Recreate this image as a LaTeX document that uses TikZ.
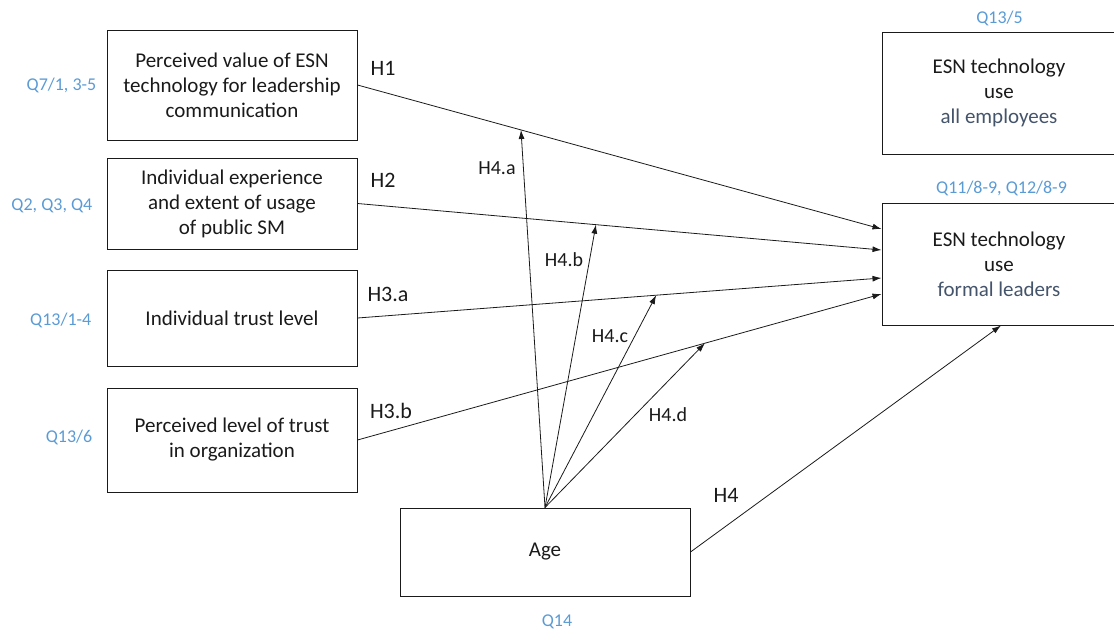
\documentclass[tikz,border=0pt]{standalone}
\usepackage{fontspec}
\setmainfont{Carlito}
\usetikzlibrary{arrows.meta}
\definecolor{qblue}{HTML}{5B9BD5}
\definecolor{slate}{HTML}{44546A}
\definecolor{ink}{HTML}{1A1A1A}
\begin{document}
\begin{tikzpicture}[x=1pt,y=-1pt,
  box/.style={draw=ink,line width=1pt,align=center,text=ink,inner sep=0pt,
    font=\fontsize{21}{25}\selectfont},
  qlabel/.style={text=qblue,inner sep=0pt,font=\fontsize{18}{22}\selectfont},
  hlabel/.style={text=ink,inner sep=0pt,font=\fontsize{22}{26}\selectfont},
  mlabel/.style={text=ink,inner sep=0pt,font=\fontsize{20}{24}\selectfont},
  link/.style={draw=ink,line width=0.8pt,-{Latex[length=9pt,width=6pt]}},
  plain/.style={draw=ink,line width=0.8pt}]
\useasboundingbox (0,0) rectangle (1114,635);

% predictor boxes on the left
\node[box,minimum width=250pt,minimum height=110pt] (b1) at (232,85)
  {Perceived value of ESN\\technology for leadership\\communication};
\node[box,minimum width=250pt,minimum height=91pt] (b2) at (232,203.5)
  {Individual experience\\and extent of usage\\of public SM};
\node[box,minimum width=250pt,minimum height=96pt] (b3) at (232,318)
  {Individual trust level};
\node[box,minimum width=250pt,minimum height=104pt] (b4) at (232,440)
  {Perceived level of trust\\in organization};
\node[box,minimum width=290pt,minimum height=88pt] (age) at (545,552) {Age};

% outcome boxes on the right
\node[box,minimum width=234pt,minimum height=122pt] (ra) at (999,93)
  {ESN technology\\use\\\textcolor{slate}{all employees}};
\node[box,minimum width=234pt,minimum height=122pt] (rb) at (999,264)
  {ESN technology\\use\\\textcolor{slate}{formal leaders}};

% questionnaire items
\node[qlabel,anchor=east] (q1) at ([xshift=-10pt]b1.west) {Q7/1, 3-5};
\node[qlabel,anchor=east] (q2) at ([xshift=-14pt,yshift=-2pt]b2.west) {Q2, Q3, Q4};
\node[qlabel,anchor=east] (q3) at ([xshift=-15pt,yshift=-2pt]b3.west) {Q13/1-4};
\node[qlabel,anchor=east] (q4) at ([xshift=-14pt,yshift=3pt]b4.west) {Q13/6};
\node[qlabel] (q5) at (999.5,18) {Q13/5};
\node[qlabel] (q6) at (1001.5,188) {Q11/8-9, Q12/8-9};
\node[qlabel] (q7) at (557,622) {Q14};

% direct hypotheses
\draw[link] (b1.east) -- coordinate[pos=0.312] (m1) ([yshift=35pt]rb.west);
\draw[link] (b2.east) -- coordinate[pos=0.455] (m2) ([yshift=14pt]rb.west);
\draw[link] (b3.east) -- coordinate[pos=0.570] (m3) ([yshift=-14pt]rb.west);
\draw[link] (b4.east) -- coordinate[pos=0.663] (m4) ([yshift=-30pt]rb.west);
\draw[link] (age.east) -- ([xshift=2pt]rb.south);

% moderating effects of age
\draw[link] (age.north) -- (m1);
\draw[link] (age.north) -- (m2);
\draw[link] (age.north) -- (m3);
\draw[link] (age.north) -- (m4);

% hypothesis labels
\node[hlabel] (h1) at (383,68) {H1};
\node[hlabel] (h2) at (383,180) {H2};
\node[hlabel] (h3a) at (388,294) {H3.a};
\node[hlabel] (h3b) at (391,411) {H3.b};
\node[hlabel] (h4) at (726,495) {H4};
\node[mlabel] (h4a) at (497,168) {H4.a};
\node[mlabel] (h4b) at (564,260) {H4.b};
\node[mlabel] (h4c) at (610,336) {H4.c};
\node[mlabel] (h4d) at (668,415) {H4.d};
\end{tikzpicture}
\end{document}
